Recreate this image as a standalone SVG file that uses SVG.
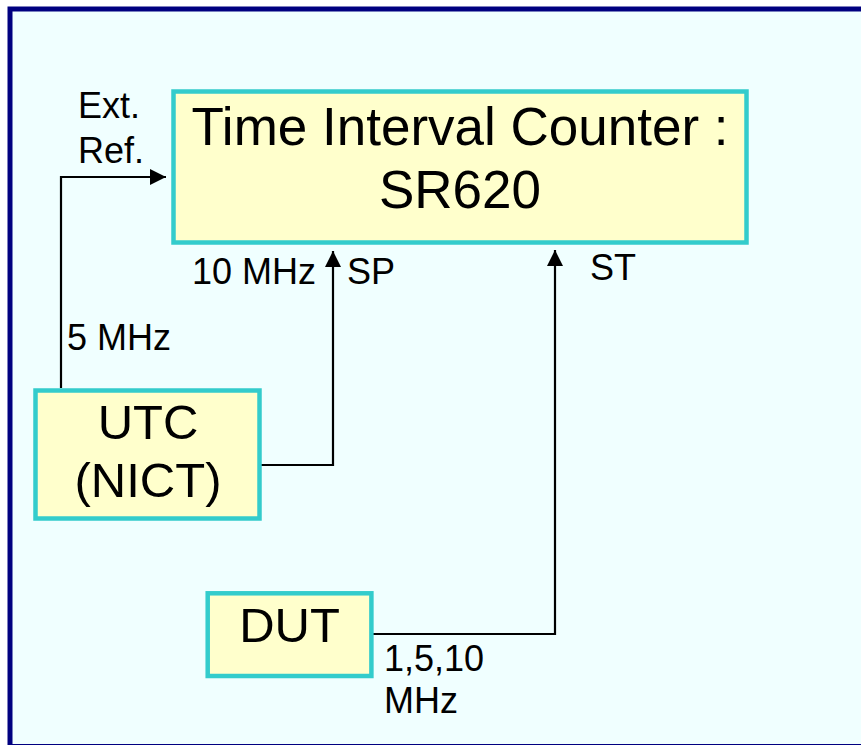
<svg xmlns="http://www.w3.org/2000/svg" width="861" height="745" viewBox="0 0 861 745">
<style>
.box{fill:#FFFFCC;stroke:#33CCCC;stroke-width:4.5}
.t{font-family:"Liberation Sans",Arial,sans-serif;fill:#000}
.big{font-size:53px;text-anchor:middle}
.mid{font-size:49px;text-anchor:middle}
.lab{font-size:36px}
.con{fill:none;stroke:#000;stroke-width:2.2}
</style>
<defs>
<marker id="ah" markerUnits="userSpaceOnUse" markerWidth="16" markerHeight="16" refX="16" refY="8" orient="auto">
<path d="M0,0 L16,8 L0,16 Z" fill="#000"/>
</marker>
</defs>
<rect x="10" y="9" width="862" height="737.5" fill="#F0FFFF" stroke="#000080" stroke-width="5"/>
<g id="connectors">
<path class="con" d="M61,388 V177 H166" marker-end="url(#ah)"/>
<path class="con" d="M257,465 H333 V251" marker-end="url(#ah)"/>
<path class="con" d="M371,634 H555 V250" marker-end="url(#ah)"/>
</g>
<g id="tic">
<rect class="box" x="173.5" y="91.5" width="573" height="151"/>
<text class="t big" x="460" y="145">Time Interval Counter :</text>
<text class="t big" x="460" y="208">SR620</text>
</g>
<g id="utc">
<rect class="box" x="35.5" y="390.5" width="224" height="128"/>
<text class="t mid" x="148" y="439">UTC</text>
<text class="t mid" x="148" y="497">(NICT)</text>
</g>
<g id="dut">
<rect class="box" x="207.7" y="593.3" width="163.7" height="82.7"/>
<text class="t mid" x="289.5" y="641.5">DUT</text>
</g>
<g id="labels">
<text class="t lab" x="78" y="118">Ext.</text>
<text class="t lab" x="78" y="163">Ref.</text>
<text class="t lab" x="192" y="284">10 MHz</text>
<text class="t lab" x="347" y="284">SP</text>
<text class="t lab" x="590" y="280">ST</text>
<text class="t lab" x="67" y="350">5 MHz</text>
<text class="t lab" x="384" y="671">1,5,10</text>
<text class="t lab" x="384" y="713">MHz</text>
</g>
</svg>
